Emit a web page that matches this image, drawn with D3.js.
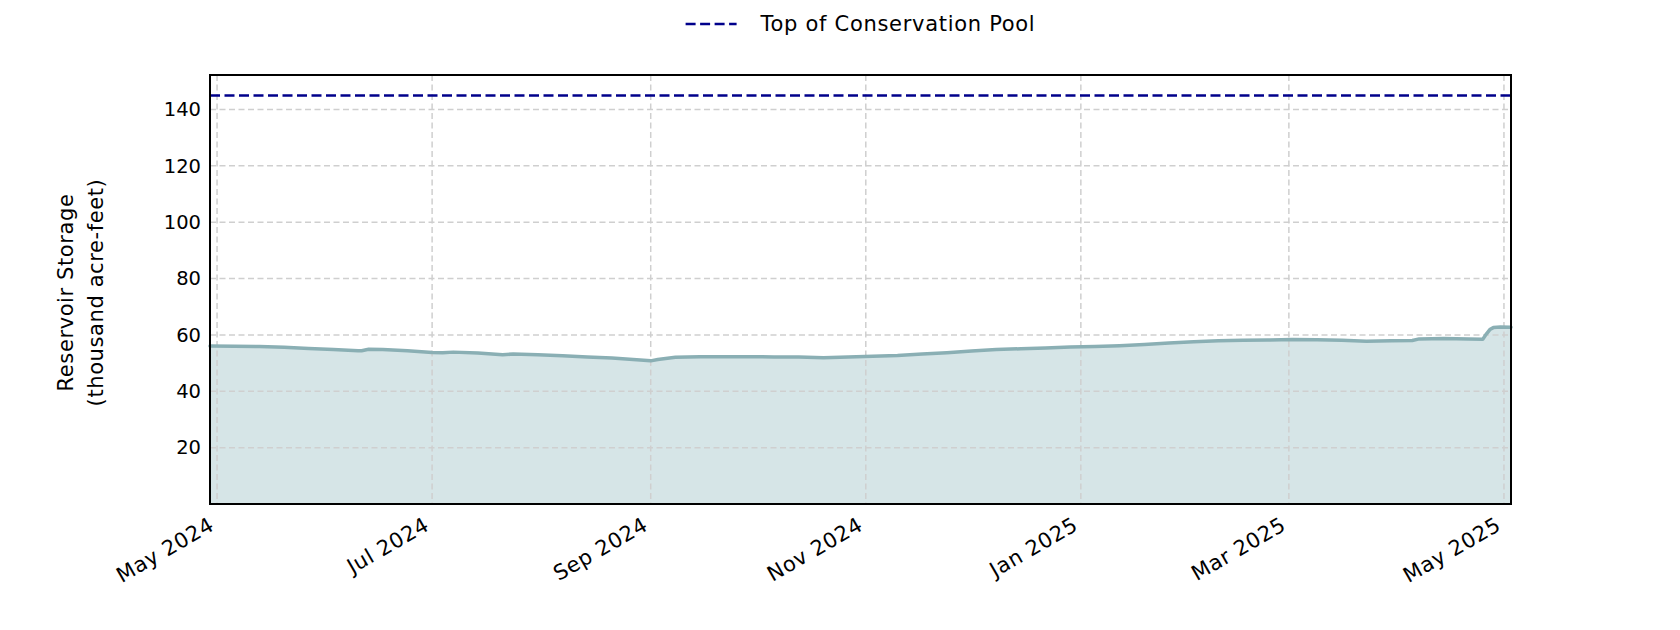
<!DOCTYPE html>
<html><head><meta charset="utf-8">
<script src="https://cdn.jsdelivr.net/npm/d3@7"></script>
<style>body{margin:0;background:#fff;} text{font-family:"DejaVu Sans", sans-serif; fill:#000;}</style>
</head><body><svg id="c" width="1680" height="630"></svg>
<script>
// ---- data ----
const dates = [
"2024-04-29","2024-05-06","2024-05-13","2024-05-20","2024-05-27","2024-06-03","2024-06-10","2024-06-11",
"2024-06-13","2024-06-17","2024-06-24","2024-07-01","2024-07-04","2024-07-07","2024-07-14","2024-07-21",
"2024-07-24","2024-07-31","2024-08-07","2024-08-14","2024-08-21","2024-08-28","2024-09-01","2024-09-03",
"2024-09-08","2024-09-15","2024-09-22","2024-09-29","2024-10-06","2024-10-13","2024-10-20","2024-10-27",
"2024-11-03","2024-11-10","2024-11-17","2024-11-24","2024-12-01","2024-12-08","2024-12-15","2024-12-22",
"2024-12-29","2025-01-05","2025-01-12","2025-01-19","2025-01-26","2025-02-02","2025-02-09","2025-02-16",
"2025-02-23","2025-03-02","2025-03-09","2025-03-16","2025-03-23","2025-03-30","2025-04-05","2025-04-07",
"2025-04-14","2025-04-21","2025-04-25","2025-04-26","2025-04-27","2025-04-28","2025-04-30","2025-05-03"];
const storage = [
56.1,56.0,55.9,55.6,55.2,54.8,54.4,54.4,
54.9,54.8,54.4,53.8,53.7,53.9,53.6,53.0,
53.2,53.0,52.6,52.2,51.8,51.2,50.8,51.3,
52.1,52.3,52.3,52.3,52.2,52.2,51.9,52.2,
52.4,52.7,53.2,53.7,54.3,54.8,55.1,55.4,
55.7,55.9,56.2,56.6,57.1,57.6,57.9,58.1,
58.2,58.4,58.3,58.1,57.8,57.9,58.0,58.6,
58.7,58.6,58.5,60.3,61.9,62.6,62.8,62.7];
const conservationPool = 145;
const xTickDates = ["2024-05-01","2024-07-01","2024-09-01","2024-11-01","2025-01-01","2025-03-01","2025-05-01"];
const xTickLabels = ["May 2024","Jul 2024","Sep 2024","Nov 2024","Jan 2025","Mar 2025","May 2025"];
const yTicks = [20,40,60,80,100,120,140];
const yLabelLines = ["Reservoir Storage","(thousand acre-feet)"];
const legendLabel = "Top of Conservation Pool";

// ---- layout ----
const W = 1680, H = 630;
const m = {left:210, right:169, top:75, bottom:126};
const iw = W - m.left - m.right, ih = H - m.top - m.bottom;
const FONT = '"DejaVu Sans", sans-serif';
const parse = d3.utcParse("%Y-%m-%d");
const data = dates.map((d,i)=>({date:parse(d), v:storage[i]}));

const svg = d3.select("#c");
const g = svg.append("g").attr("transform",`translate(${m.left},${m.top})`);

const x = d3.scaleUtc().domain(d3.extent(data,d=>d.date)).range([0,iw]);
const y = d3.scaleLinear().domain([0,152.25]).range([ih,0]);

// fill
g.append("path").datum(data)
  .attr("d", d3.area().x(d=>x(d.date)).y0(y(0)).y1(d=>y(d.v)))
  .attr("fill","#d6e5e7");

// grid
const gridColor = "#cfcfcf";
g.append("g").selectAll("line").data(yTicks).join("line")
  .attr("x1",0).attr("x2",iw).attr("y1",d=>y(d)).attr("y2",d=>y(d))
  .attr("stroke",gridColor).attr("stroke-width",1.5).attr("stroke-dasharray","6,3.5");
g.append("g").selectAll("line").data(xTickDates).join("line")
  .attr("x1",d=>x(parse(d))).attr("x2",d=>x(parse(d))).attr("y1",0).attr("y2",ih)
  .attr("stroke",gridColor).attr("stroke-width",1.5).attr("stroke-dasharray","6,3.5");

// storage line
g.append("path").datum(data)
  .attr("d", d3.line().x(d=>x(d.date)).y(d=>y(d.v)))
  .attr("fill","none").attr("stroke","#8aafb4").attr("stroke-width",3.5)
  .attr("stroke-linejoin","round").attr("stroke-linecap","round");

// conservation pool line
g.append("line").attr("x1",0).attr("x2",iw)
  .attr("y1",y(conservationPool)).attr("y2",y(conservationPool))
  .attr("stroke","#00008b").attr("stroke-width",2.6).attr("stroke-dasharray","10,4.5");

// frame
g.append("rect").attr("x",0).attr("y",0).attr("width",iw).attr("height",ih)
  .attr("fill","none").attr("stroke","#000").attr("stroke-width",2);

// y tick labels
const yAxis = d3.axisLeft(y).tickValues(yTicks).tickSize(0).tickPadding(9);
const ya = g.append("g").call(yAxis);
ya.select(".domain").remove();
ya.selectAll("text").style("font-size","19.5px").style("font-family",FONT).attr("fill","#000");

// x tick labels
const xAxis = d3.axisBottom(x).tickValues(xTickDates.map(parse)).tickSize(0)
  .tickFormat((d,i)=>xTickLabels[i]);
const xa = g.append("g").attr("transform",`translate(0,${ih})`).call(xAxis);
xa.select(".domain").remove();
xa.selectAll("text")
  .style("font-size","21px").style("letter-spacing","0.6px").style("font-family",FONT).attr("fill","#000")
  .attr("text-anchor","end").attr("dy",null).attr("y",null)
  .attr("transform","translate(-2,25) rotate(-30)");

// y label
const yl = svg.append("text")
  .attr("transform",`translate(73,${m.top+ih/2 + 3}) rotate(-90)`)
  .attr("text-anchor","middle").style("font-size","21px").style("letter-spacing","0.6px");
yl.selectAll("tspan").data(yLabelLines).join("tspan")
  .attr("x",0).attr("dy",(d,i)=>i===0?"0":"1.43em").text(d=>d);

// legend
const lg = svg.append("g").attr("transform",`translate(${m.left+iw/2},24)`);
const lt = lg.append("text").attr("x",0).attr("y",7).style("font-size","21px").style("letter-spacing","0.7px").text(legendLabel);
const tw = lt.node().getComputedTextLength();
const total = 51 + 24 + tw;
lt.attr("x", -total/2 + 75);
lg.append("line").attr("x1",-total/2).attr("x2",-total/2+51).attr("y1",0).attr("y2",0)
  .attr("stroke","#00008b").attr("stroke-width",2.6).attr("stroke-dasharray","10,4.5");
</script></body></html>
